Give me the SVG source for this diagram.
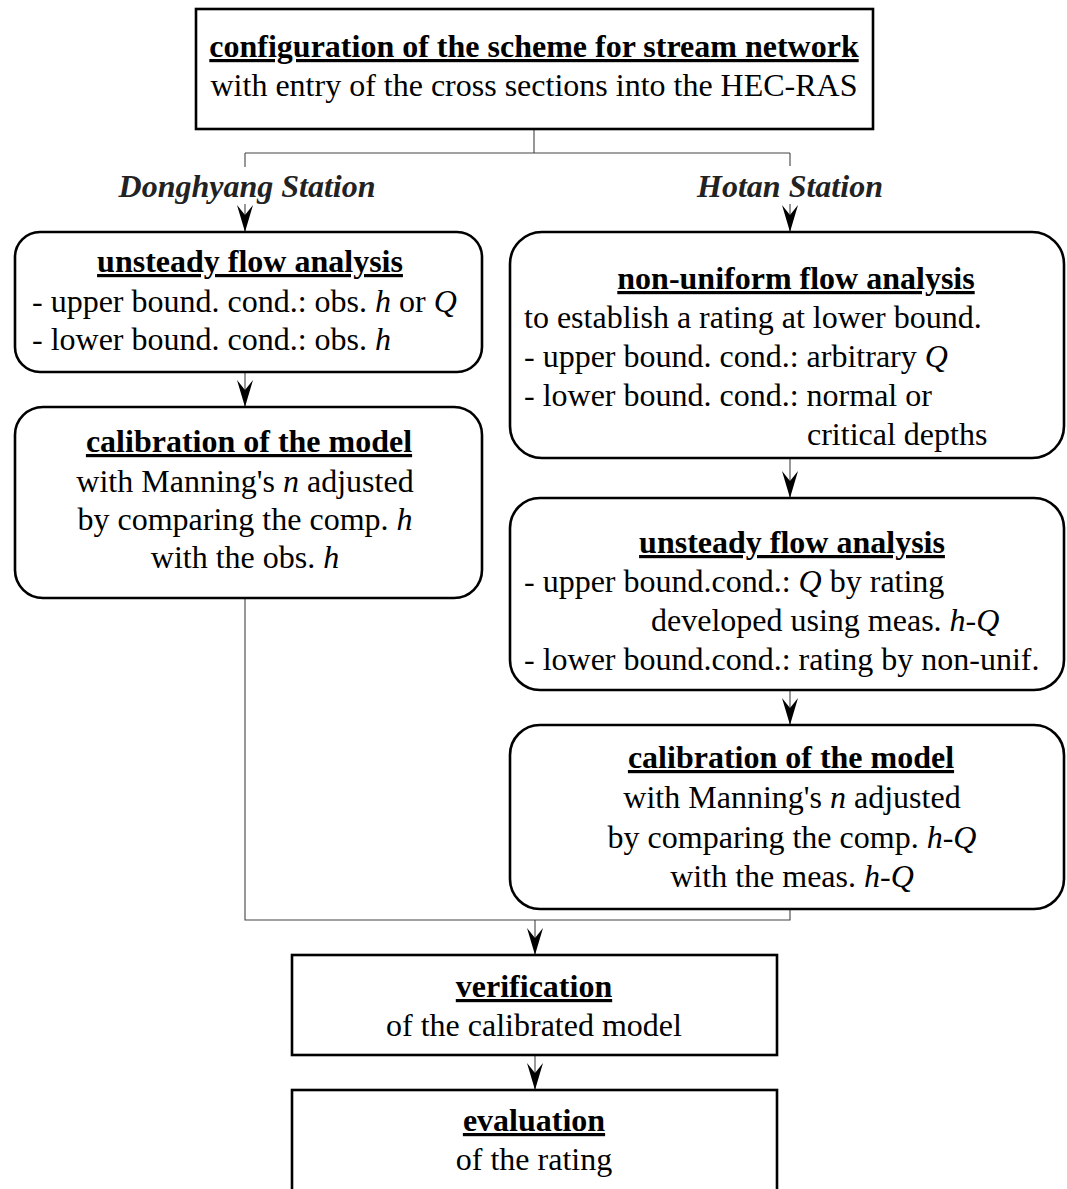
<svg xmlns="http://www.w3.org/2000/svg" width="1067" height="1189" viewBox="0 0 1067 1189">
  <defs>
    <style>
      text { font-family: "Liberation Serif", "Times New Roman", serif; font-size: 32px; fill: #000; }
      .t { font-weight: bold; text-decoration: underline; }
      .c { text-anchor: middle; }
      .i { font-style: italic; }
      .st { font-weight: bold; font-style: italic; fill: #222; font-size: 32px; text-anchor: middle; }
      .box { fill: #fff; stroke: #000; stroke-width: 2.6; }
      .ln { fill: none; stroke: #444; stroke-width: 1.1; }
    </style>
    <!-- narrow barbed arrowhead shared by all connectors -->
    <marker id="arr" markerUnits="userSpaceOnUse" markerWidth="30" markerHeight="20" viewBox="-28 -10 30 20" refX="0" refY="0" orient="auto">
      <path d="M0,0 L-27,-8 L-17,0 L-27,8 Z" fill="#000"/>
    </marker>
  </defs>

  <!-- connectors -->
  <g id="connectors">
    <path class="ln" d="M534,129 V153 M245,153 H790 M245,153 V167 M790,153 V166"/>
    <path class="ln" d="M245,204 V232" marker-end="url(#arr)"/>
    <path class="ln" d="M790,204 V232" marker-end="url(#arr)"/>
    <path class="ln" d="M245,372 V407" marker-end="url(#arr)"/>
    <path class="ln" d="M790,458 V498" marker-end="url(#arr)"/>
    <path class="ln" d="M790,690 V725" marker-end="url(#arr)"/>
    <path class="ln" d="M245,598 V920 H790 V910"/>
    <path class="ln" d="M535,920 V955" marker-end="url(#arr)"/>
    <path class="ln" d="M535,1055 V1090" marker-end="url(#arr)"/>
  </g>

  <g id="labels">
    <text class="st" x="247" y="197">Donghyang Station</text>
    <text class="st" x="790" y="197">Hotan Station</text>
  </g>

  <g id="config">
    <rect class="box" x="196" y="9" width="677" height="120"/>
    <text class="t c" x="534" y="57">configuration of the scheme for stream network</text>
    <text class="c" x="534" y="96">with entry of the cross sections into the HEC-RAS</text>
  </g>

  <g id="dong-unsteady">
    <rect class="box" x="15" y="232" width="467" height="140" rx="25"/>
    <text class="t c" x="250" y="272">unsteady flow analysis</text>
    <text x="32" y="312">- upper bound. cond.: obs. <tspan class="i">h</tspan> or <tspan class="i">Q</tspan></text>
    <text x="32" y="350">- lower bound. cond.: obs. <tspan class="i">h</tspan></text>
  </g>

  <g id="dong-calibration">
    <rect class="box" x="15" y="407" width="467" height="191" rx="28"/>
    <text class="t c" x="249" y="452">calibration of the model</text>
    <text class="c" x="245" y="492">with Manning's <tspan class="i">n</tspan> adjusted</text>
    <text class="c" x="245" y="530">by comparing the comp. <tspan class="i">h</tspan></text>
    <text class="c" x="245" y="568">with the obs. <tspan class="i">h</tspan></text>
  </g>

  <g id="hotan-nonuniform">
    <rect class="box" x="510" y="232" width="554" height="226" rx="32"/>
    <text class="t c" x="796" y="289">non-uniform flow analysis</text>
    <text x="524" y="328">to establish a rating at lower bound.</text>
    <text x="524" y="367">- upper bound. cond.: arbitrary <tspan class="i">Q</tspan></text>
    <text x="524" y="406">- lower bound. cond.: normal or</text>
    <text x="807" y="445">critical depths</text>
  </g>

  <g id="hotan-unsteady">
    <rect class="box" x="510" y="498" width="554" height="192" rx="30"/>
    <text class="t c" x="792" y="553">unsteady flow analysis</text>
    <text x="524" y="592">- upper bound.cond.: <tspan class="i">Q</tspan> by rating</text>
    <text x="651" y="631">developed using meas. <tspan class="i">h</tspan>-<tspan class="i">Q</tspan></text>
    <text x="524" y="670">- lower bound.cond.: rating by non-unif.</text>
  </g>

  <g id="hotan-calibration">
    <rect class="box" x="510" y="725" width="554" height="184" rx="30"/>
    <text class="t c" x="791" y="768">calibration of the model</text>
    <text class="c" x="792" y="808">with Manning's <tspan class="i">n</tspan> adjusted</text>
    <text class="c" x="792" y="848">by comparing the comp. <tspan class="i">h</tspan>-<tspan class="i">Q</tspan></text>
    <text class="c" x="792" y="887">with the meas. <tspan class="i">h</tspan>-<tspan class="i">Q</tspan></text>
  </g>

  <g id="verification">
    <rect class="box" x="292" y="955" width="485" height="100"/>
    <text class="t c" x="534" y="997">verification</text>
    <text class="c" x="534" y="1036">of the calibrated model</text>
  </g>

  <g id="evaluation">
    <rect class="box" x="292" y="1090" width="485" height="110"/>
    <text class="t c" x="534" y="1131">evaluation</text>
    <text class="c" x="534" y="1170">of the rating</text>
  </g>
</svg>
